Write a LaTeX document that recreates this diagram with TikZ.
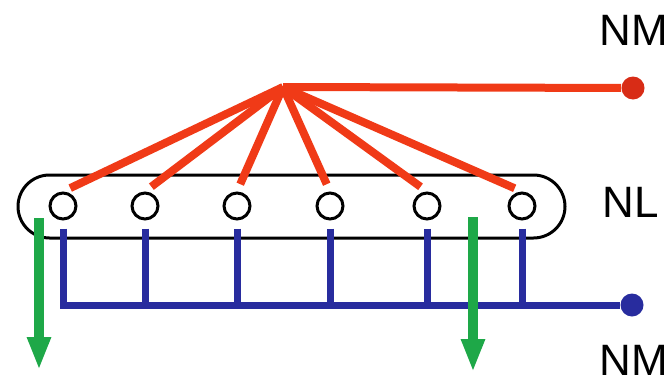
\documentclass[tikz,border=0pt]{standalone}
\usepackage{fontspec}
\setmainfont{Liberation Sans}
\usetikzlibrary{arrows.meta,positioning,calc}
\definecolor{linkred}{RGB}{240,58,23}
\definecolor{dotred}{RGB}{216,44,22}
\definecolor{linkblue}{RGB}{40,44,158}
\definecolor{linkgreen}{RGB}{30,168,72}
\tikzset{
  hub/.style={circle,draw,line width=0.06cm,minimum size=0.52cm,inner sep=0pt},
  enddot/.style={circle,fill=#1,minimum size=0.46cm,inner sep=0pt},
  redlink/.style={draw=linkred,line width=0.16cm,shorten >=0.16cm},
  bluelink/.style={draw=linkblue,line width=0.14cm,shorten <=0.16cm},
  flow/.style={draw=linkgreen,line width=0.2cm,-{Triangle[width=0.44cm,length=0.66cm]}},
  tag/.style={font=\fontsize{25}{30}\selectfont,inner sep=0pt}
}
\begin{document}
\begin{tikzpicture}
  \useasboundingbox (0,0) rectangle (13.42,7.64);

  % Drawing bar NL
  \draw [line width=0.06cm,rounded corners=0.63cm] (0.36,2.88) rectangle (11.30,4.14);

  % Marking hubs
  \node [hub] (h1) at (1.26,3.52) {};
  \node [hub] (h2) at (2.90,3.52) {};
  \node [hub] (h3) at (4.74,3.52) {};
  \node [hub] (h4) at (6.60,3.52) {};
  \node [hub] (h5) at (8.54,3.52) {};
  \node [hub] (h6) at (10.44,3.52) {};

  % Marking apex and end dots
  \coordinate (apex) at (5.66,5.90);
  \node [enddot=dotred] (nmtop) at (12.66,5.88) {};
  \node [enddot=linkblue] (nmbot) at (12.64,1.54) {};

  % Drawing red links
  \draw [redlink,shorten >=0pt] (apex) -- (nmtop);
  \draw [redlink] (apex) -- (h1.north);
  \draw [redlink] (apex) -- (h2.north);
  \draw [redlink] (apex) -- (h3.north);
  \draw [redlink] (apex) -- (h4.north);
  \draw [redlink] (apex) -- (h5.north);
  \draw [redlink] (apex) -- (h6.north);

  % Drawing blue links
  \draw [bluelink] (h1) -- (h1 |- nmbot) -- (nmbot);
  \draw [bluelink] (h2) -- (h2 |- nmbot);
  \draw [bluelink] (h3) -- (h3 |- nmbot);
  \draw [bluelink] (h4) -- (h4 |- nmbot);
  \draw [bluelink] (h5) -- (h5 |- nmbot);
  \draw [bluelink] (h6) -- (h6 |- nmbot);

  % Drawing green arrows
  \coordinate (g1a) at (0.78,3.28);
  \coordinate (g1b) at (0.78,0.24);
  \coordinate (g2a) at (9.46,3.30);
  \coordinate (g2b) at (9.46,0.20);
  \draw [flow] (g1a) -- (g1b);
  \draw [flow] (g2a) -- (g2b);

  % Marking labels
  \node [tag] (lnmtop) at (12.68,7.04) {NM};
  \node [tag] (lnl) at (12.62,3.60) {NL};
  \node [tag] (lnmbot) at (12.68,0.44) {NM};
\end{tikzpicture}
\end{document}
